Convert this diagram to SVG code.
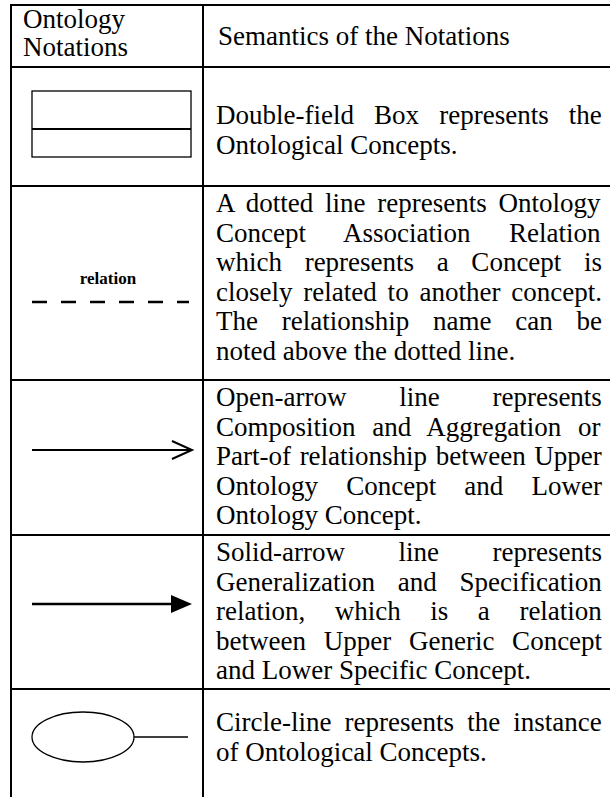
<svg xmlns="http://www.w3.org/2000/svg" width="610" height="797" viewBox="0 0 610 797">
<style>
.t{font-family:"Liberation Serif","Times New Roman",serif;font-size:27px;fill:#000}
.grid{stroke:#000;stroke-width:2;fill:none}
.thin{stroke:#000;stroke-width:1.3;fill:none}
</style>
<rect x="0" y="0" width="610" height="797" fill="#fff"/>
<g id="grid" class="grid">
<line x1="11" y1="5" x2="610" y2="5"/>
<line x1="11" y1="4" x2="11" y2="797"/>
<line x1="203" y1="4" x2="203" y2="797"/>
<line x1="11" y1="67" x2="610" y2="67"/>
<line x1="11" y1="186" x2="610" y2="186"/>
<line x1="11" y1="380" x2="610" y2="380"/>
<line x1="11" y1="535" x2="610" y2="535"/>
<line x1="11" y1="689" x2="610" y2="689"/>
</g>
<g id="header">
<text class="t" x="23" y="28">Ontology</text>
<text class="t" x="23" y="56">Notations</text>
<text class="t" x="218" y="45">Semantics of the Notations</text>
</g>
<g id="row-concept">
<rect x="32" y="91" width="159" height="66" class="thin"/>
<line x1="32" y1="129" x2="191" y2="129" stroke="#000" stroke-width="2.2"/>
<text class="t" x="216" y="124" word-spacing="13.4">Double-field Box represents the</text>
<text class="t" x="216" y="153.5">Ontological Concepts.</text>
</g>
<g id="row-association">
<text x="108" y="284" text-anchor="middle" font-family="Liberation Serif,Times New Roman,serif" font-size="17" font-weight="bold">relation</text>
<text class="t" x="216" y="212" word-spacing="5">A dotted line represents Ontology</text>
<text class="t" x="216" y="241.5" word-spacing="31.8">Concept Association Relation</text>
<text class="t" x="216" y="271" word-spacing="15.9">which represents a Concept is</text>
<text class="t" x="216" y="300.5" word-spacing="4.1">closely related to another concept.</text>
<text class="t" x="216" y="330" word-spacing="17">The relationship name can be</text>
<text class="t" x="216" y="359.5">noted above the dotted line.</text>
</g>
<g id="row-partof">
<text class="t" x="216" y="406" word-spacing="46">Open-arrow line represents</text>
<text class="t" x="216" y="435.5" word-spacing="9.9">Composition and Aggregation or</text>
<text class="t" x="216" y="465" word-spacing="1.9">Part-of relationship between Upper</text>
<text class="t" x="216" y="494.5" word-spacing="21.4">Ontology Concept and Lower</text>
<text class="t" x="216" y="524">Ontology Concept.</text>
</g>
<g id="row-generalization">
<text class="t" x="216" y="561" word-spacing="46.8">Solid-arrow line represents</text>
<text class="t" x="216" y="590.5" word-spacing="16">Generalization and Specification</text>
<text class="t" x="216" y="620" word-spacing="22.8">relation, which is a relation</text>
<text class="t" x="216" y="649.5" word-spacing="11">between Upper Generic Concept</text>
<text class="t" x="216" y="679">and Lower Specific Concept.</text>
</g>
<g id="row-instance">
<ellipse cx="83" cy="737" rx="51" ry="25" class="thin"/>
<line x1="134" y1="737" x2="188" y2="737" class="thin"/>
<text class="t" x="216" y="731" word-spacing="6.4">Circle-line represents the instance</text>
<text class="t" x="216" y="760.5">of Ontological Concepts.</text>
</g>
<g id="connectors">
<line x1="32" y1="302" x2="189" y2="302" stroke="#000" stroke-width="2.3" stroke-dasharray="15 14"/>
<line x1="32" y1="450" x2="190" y2="450" stroke="#000" stroke-width="2"/>
<polyline points="172,441 192,450 172,459" fill="none" stroke="#000" stroke-width="2"/>
<line x1="32" y1="604" x2="176" y2="604" stroke="#000" stroke-width="2.5"/>
<polygon points="171,595 192,604 171,613" fill="#000"/>
</g>
</svg>
